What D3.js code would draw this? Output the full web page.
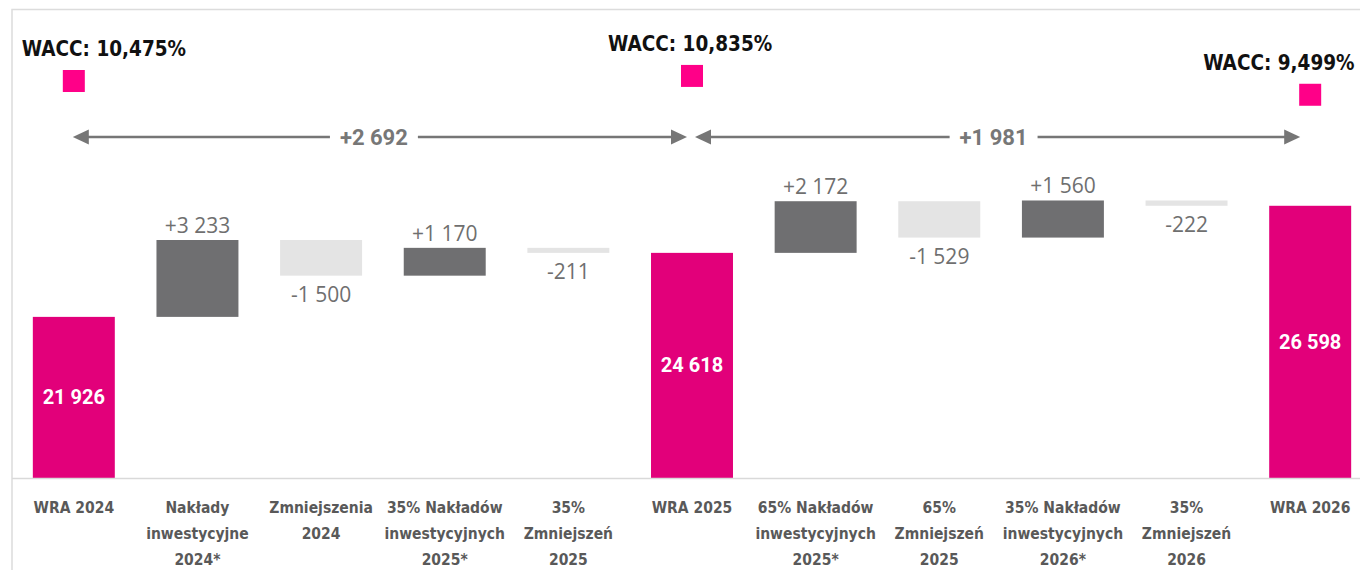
<!DOCTYPE html>
<html>
<head>
<meta charset="utf-8">
<script src="https://cdn.jsdelivr.net/npm/d3@7"></script>
<style>
  html, body { margin: 0; padding: 0; background: #fff; }
  svg { display: block; }
  .cond { font-family: 'DejaVu Sans Condensed', 'DejaVu Sans', sans-serif; font-stretch: condensed; }
</style>
</head>
<body>
<div id="chart"></div>
<script>
// waterfall data
const categories = [
  ['WRA 2024'],
  ['Nakłady', 'inwestycyjne', '2024*'],
  ['Zmniejszenia', '2024'],
  ['35% Nakładów', 'inwestycyjnych', '2025*'],
  ['35%', 'Zmniejszeń', '2025'],
  ['WRA 2025'],
  ['65% Nakładów', 'inwestycyjnych', '2025*'],
  ['65%', 'Zmniejszeń', '2025'],
  ['35% Nakładów', 'inwestycyjnych', '2026*'],
  ['35%', 'Zmniejszeń', '2026'],
  ['WRA 2026'],
];
const values = [21926, 3233, -1500, 1170, -211, 24618, 2172, -1529, 1560, -222, 26598];
const isTotal = [true, false, false, false, false, true, false, false, false, false, true];

// WACC markers
const waccIdx = [0, 5, 10];
const waccValues = [10.475, 10.835, 9.499];
const waccLabels = ['WACC: 10,475%', 'WACC: 10,835%', 'WACC: 9,499%'];

// change between totals
const spanFrom = [0, 5];
const spanTo = [5, 10];
const spanValues = [2692, 1981];

const W = 1360;
const H = 570;
const baseY = 478;

const colTotal = '#e2007a';
const colUp = '#6f6f71';
const colDown = '#e4e4e4';
const colWacc = '#ff0088';

const loc = d3.formatLocale({ decimal: ',', thousands: ' ', grouping: [3], currency: ['', ''], minus: '-' });
const fmt = loc.format(',d');
const fmtSigned = loc.format('+,d');

const svg = d3.select('#chart').append('svg')
  .attr('width', W)
  .attr('height', H);

// frame
svg.append('path')
  .attr('d', `M12,${H}V9.5H${W}`)
  .attr('fill', 'none')
  .attr('stroke', '#dcdcdc')
  .attr('stroke-width', 1.5);

const x = d3.scaleBand()
  .domain(d3.range(categories.length))
  .range([12, 1372])
  .paddingInner(0.337)
  .paddingOuter(0.1685);

const y = d3.scaleLinear()
  .domain([15150, 35000])
  .range([baseY, 6]);

const yW = d3.scaleLinear()
  .domain([9, 11])
  .range([101.8, 73.6]);

// running totals
let running = 0;
const bars = values.map((v, i) => {
  if (isTotal[i]) {
    running = v;
    return { i, v, lo: y.domain()[0], hi: v, total: true };
  }
  const start = running;
  running += v;
  return { i, v, lo: Math.min(start, running), hi: Math.max(start, running), total: false };
});

svg.append('g').selectAll('rect')
  .data(bars)
  .enter()
  .append('rect')
  .attr('x', (d) => x(d.i))
  .attr('width', x.bandwidth())
  .attr('y', (d) => y(d.hi))
  .attr('height', (d) => y(d.lo) - y(d.hi))
  .attr('fill', (d) => (d.total ? colTotal : (d.v > 0 ? colUp : colDown)));

// baseline
svg.append('line')
  .attr('x1', 12).attr('x2', W)
  .attr('y1', baseY + 0.5).attr('y2', baseY + 0.5)
  .attr('stroke', '#d9d9d9')
  .attr('stroke-width', 1.5);

// value labels
svg.append('g').selectAll('text')
  .data(bars)
  .enter()
  .append('text')
  .attr('x', (d) => x(d.i) + x.bandwidth() / 2)
  .attr('y', (d) => {
    if (d.total) return (y(d.hi) + y(d.lo)) / 2;
    return d.v > 0 ? y(d.hi) - 7 : y(d.lo) + 26;
  })
  .attr('dy', (d) => (d.total ? '0.35em' : 0))
  .attr('text-anchor', 'middle')
  .attr('font-family', (d) => (d.total ? 'Roboto' : 'Open Sans'))
  .attr('font-weight', (d) => (d.total ? 700 : 400))
  .attr('font-size', (d) => (d.total ? 20 : 21))
  .attr('fill', (d) => (d.total ? '#fff' : '#6f6f6f'))
  .text((d) => (d.total ? fmt(d.v) : fmtSigned(d.v)));

// category labels
const cat = svg.append('g').selectAll('text')
  .data(categories)
  .enter()
  .append('text')
  .attr('class', 'cond')
  .attr('text-anchor', 'middle')
  .attr('font-weight', 700)
  .attr('font-size', 15.5)
  .attr('fill', '#595959');
cat.selectAll('tspan')
  .data((d, i) => d.map((line, k) => ({ line, k, i })))
  .enter()
  .append('tspan')
  .attr('x', (d) => x(d.i) + x.bandwidth() / 2)
  .attr('y', (d) => 513 + d.k * 26)
  .text((d) => d.line);

// WACC squares + labels
const wLabelShift = [-11, -43, -66];
const wg = svg.append('g');
waccIdx.forEach((ci, k) => {
  const cx = x(ci) + x.bandwidth() / 2;
  const cy = yW(waccValues[k]);
  wg.append('rect')
    .attr('x', cx - 11).attr('y', cy - 11)
    .attr('width', 22).attr('height', 22)
    .attr('fill', colWacc);
  wg.append('text')
    .attr('class', 'cond')
    .attr('x', x(ci) + wLabelShift[k])
    .attr('y', cy - 25)
    .attr('font-weight', 700)
    .attr('font-size', 20.5)
    .attr('fill', '#111')
    .text(waccLabels[k]);
});

// span arrows
const arrowY = 137;
const ag = svg.append('g');
const head = (tipX, dir) => `M${tipX},${arrowY}L${tipX - dir * 16},${arrowY - 7.5}L${tipX - dir * 16},${arrowY + 7.5}Z`;
spanValues.forEach((v, k) => {
  const xa = x(spanFrom[k]) + x.bandwidth() / 2 - (k === 0 ? 1 : -3);
  const xb = x(spanTo[k]) + x.bandwidth() / 2 - (k === 0 ? 5 : 10);
  const mid = (xa + xb) / 2 + (k === 0 ? -6 : -4);
  const t = ag.append('text')
    .attr('x', mid)
    .attr('y', arrowY)
    .attr('dy', '0.35em')
    .attr('text-anchor', 'middle')
    .attr('font-family', 'Roboto')
    .attr('font-weight', 700)
    .attr('font-size', 22)
    .attr('fill', '#777')
    .text(fmtSigned(v));
  const half = t.node().getComputedTextLength() / 2 + 10;
  ag.append('path')
    .attr('d', `M${xa + 10},${arrowY}H${mid - half}M${mid + half},${arrowY}H${xb - 10}`)
    .attr('stroke', '#767676')
    .attr('stroke-width', 2.5)
    .attr('fill', 'none');
  ag.append('path').attr('d', head(xa, -1)).attr('fill', '#767676');
  ag.append('path').attr('d', head(xb, 1)).attr('fill', '#767676');
});
</script>
</body>
</html>
